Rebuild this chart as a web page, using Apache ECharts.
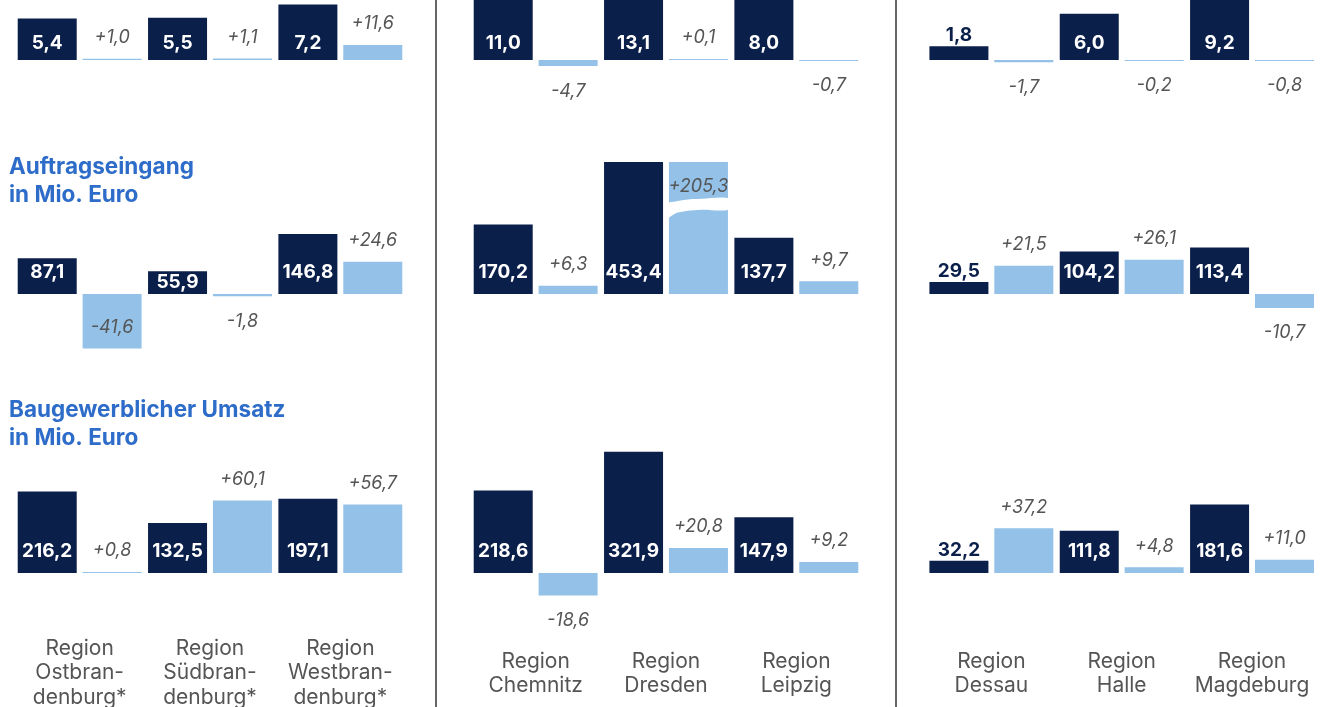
<!DOCTYPE html>
<html>
<head>
<meta charset="utf-8">
<script src="https://cdn.jsdelivr.net/npm/echarts@6/dist/echarts.min.js"></script>
<style>
html,body{margin:0;padding:0;background:#fff;}
#c{width:1323px;height:707px;}
</style>
</head>
<body>
<div id="c"></div>
<script>
// ---------- data ----------
const regionsBB = ['Region\nOstbran-\ndenburg*', 'Region\nSüdbran-\ndenburg*', 'Region\nWestbran-\ndenburg*'];
const regionsSN = ['Region\nChemnitz', 'Region\nDresden', 'Region\nLeipzig'];
const regionsST = ['Region\nDessau', 'Region\nHalle', 'Region\nMagdeburg'];

// Row 1 (metric title cut off above)
const row1ValuesBB = [5.4, 5.5, 7.2];
const row1ChangeBB = [1.0, 1.1, 11.6];
const row1ValuesSN = [11.0, 13.1, 8.0];
const row1ChangeSN = [-4.7, 0.1, -0.7];
const row1ValuesST = [1.8, 6.0, 9.2];
const row1ChangeST = [-1.7, -0.2, -0.8];

// Row 2: Auftragseingang in Mio. Euro
const orderValuesBB = [87.1, 55.9, 146.8];
const orderChangeBB = [-41.6, -1.8, 24.6];
const orderValuesSN = [170.2, 453.4, 137.7];
const orderChangeSN = [6.3, 205.3, 9.7];
const orderValuesST = [29.5, 104.2, 113.4];
const orderChangeST = [21.5, 26.1, -10.7];

// Row 3: Baugewerblicher Umsatz in Mio. Euro
const salesValuesBB = [216.2, 132.5, 197.1];
const salesChangeBB = [0.8, 60.1, 56.7];
const salesValuesSN = [218.6, 321.9, 147.9];
const salesChangeSN = [-18.6, 20.8, 9.2];
const salesValuesST = [32.2, 111.8, 181.6];
const salesChangeST = [37.2, 4.8, 11.0];

const rowTitles = ['', 'Auftragseingang\nin Mio. Euro', 'Baugewerblicher Umsatz\nin Mio. Euro'];

// ---------- layout ----------
const DARK = '#0b1f4b';
const LIGHT = '#93c1e8';
const TITLE = '#2d6cc8';
const GREY = '#555555';
const FONT = 'Inter, "Open Sans", sans-serif';

const colLeft = [14.5, 470.5, 926.2];
const colWidth = 391;
const regionsByCol = [regionsBB, regionsSN, regionsST];

const rows = [
  { top: 0,   height: 120, dMin: -7.792, dMax: 7.792, lMin: -46.15, lMax: 46.15, inDist: 7,
    values: [row1ValuesBB, row1ValuesSN, row1ValuesST], changes: [row1ChangeBB, row1ChangeSN, row1ChangeST] },
  { top: 162, height: 264, dMin: -322.7, dMax: 322.7, lMin: -100.8, lMax: 100.8, inDist: 12,
    values: [orderValuesBB, orderValuesSN, orderValuesST], changes: [orderChangeBB, orderChangeSN, orderChangeST] },
  { top: 440, height: 180, dMin: -124.7, dMax: 352.8, lMin: -38.9, lMax: 110.2, inDist: 12,
    values: [salesValuesBB, salesValuesSN, salesValuesST], changes: [salesChangeBB, salesChangeSN, salesChangeST] }
];

const fmtVal = v => v.toFixed(1).replace('.', ',');
const fmtChg = v => (v >= 0 ? '+' : '-') + Math.abs(v).toFixed(1).replace('.', ',');

const grid = [], xAxis = [], yAxis = [], series = [];

rows.forEach((row, r) => {
  const dPx = row.height / (row.dMax - row.dMin);
  const lPx = row.height / (row.lMax - row.lMin);
  const aboveBase = row.dMax * dPx;
  for (let c = 0; c < 3; c++) {
    const g = r * 3 + c;
    grid.push({ left: colLeft[c], width: colWidth, top: row.top, height: row.height, containLabel: false, outerBoundsMode: 'none' });
    xAxis.push({
      type: 'category', gridIndex: g, data: regionsByCol[c],
      position: 'bottom',
      axisLine: { show: false }, axisTick: { show: false }, splitLine: { show: false },
      axisLabel: {
        show: r === 2, interval: 0, color: GREY, fontSize: 21, lineHeight: 24.5,
        fontFamily: FONT, margin: c === 0 ? 16 : 29
      }
    });
    yAxis.push({ type: 'value', gridIndex: g, min: row.dMin, max: row.dMax, show: false, splitLine: { show: false } });
    yAxis.push({ type: 'value', gridIndex: g, min: row.lMin, max: row.lMax, show: false, splitLine: { show: false } });

    const darkData = row.values[c].map(v => {
      const h = v * dPx;
      let label;
      if (h < 16) {
        label = { position: 'top', distance: 1, color: DARK };
      } else if (h < 30) {
        label = { position: 'inside', color: '#fff' };
      } else {
        label = { position: 'insideBottom', distance: row.inDist, color: '#fff' };
      }
      return { value: v, label };
    });
    const lightData = row.changes[c].map(v => {
      const h = Math.abs(v) * lPx;
      let label;
      if (v > 0 && h > aboveBase) {
        label = { position: 'insideTop', distance: 16 };
      } else if (v < 0 && h > 40) {
        label = { position: 'insideBottom', distance: 12 };
      } else if (v < 0) {
        label = { position: 'bottom', distance: 16 };
      } else {
        label = { position: 'top', distance: 12 };
      }
      return { value: v, label };
    });

    series.push({
      type: 'bar', xAxisIndex: g, yAxisIndex: 2 * g, data: darkData,
      barWidth: 59, barGap: '10%', clip: true,
      itemStyle: { color: DARK },
      label: { show: true, fontSize: 19, fontWeight: 'bold', fontFamily: FONT, formatter: p => fmtVal(p.value) },
      silent: true, animation: false
    });
    series.push({
      type: 'bar', xAxisIndex: g, yAxisIndex: 2 * g + 1, data: lightData,
      barWidth: 59, barGap: '10%', clip: true, barMinHeight: 1,
      itemStyle: { color: LIGHT },
      label: { show: true, fontSize: 18, fontStyle: 'italic', color: GREY, fontFamily: FONT, formatter: p => fmtChg(p.value) },
      silent: true, animation: false
    });
  }
});

const title = [
  { text: rowTitles[1], left: 9, top: 153, padding: 0, textStyle: { fontSize: 22.5, fontWeight: 'bold', color: TITLE, lineHeight: 28, fontFamily: FONT } },
  { text: rowTitles[2], left: 9, top: 396, padding: 0, textStyle: { fontSize: 22.5, fontWeight: 'bold', color: TITLE, lineHeight: 28, fontFamily: FONT } }
];

const chart = echarts.init(document.getElementById('c'), null, { renderer: 'canvas' });
chart.setOption({ animation: false, backgroundColor: '#fff', title, grid, xAxis, yAxis, series });

// decorations: column separators and axis-break mark on the clipped Dresden change bar
const g4 = 4;
const xc = chart.convertToPixel({ xAxisIndex: g4 }, regionsSN[1]);
const L = xc + 2.95 - 1, R = xc + 61.95 + 1;
const y0 = chart.convertToPixel({ yAxisIndex: 2 * g4 + 1 }, 73);
const w = R - L;
const band = [
  [L, y0 + 5], [L + w * 0.12, y0 + 3], [L + w * 0.3, y0 + 1.3], [L + w * 0.55, y0 + 0.4], [R, y0],
  [R, y0 + 11], [L + w * 0.55, y0 + 11.4], [L + w * 0.3, y0 + 12.6], [L + w * 0.12, y0 + 15], [L, y0 + 19]
];
chart.setOption({
  graphic: [
    { type: 'line', shape: { x1: 436, y1: 0, x2: 436, y2: 707 }, style: { stroke: '#666', lineWidth: 2 }, z: 10 },
    { type: 'line', shape: { x1: 896, y1: 0, x2: 896, y2: 707 }, style: { stroke: '#666', lineWidth: 2 }, z: 10 },
    { type: 'polygon', shape: { points: band, smooth: 0.3 }, style: { fill: '#fff' }, z: 100 }
  ]
});
</script>
</body>
</html>
